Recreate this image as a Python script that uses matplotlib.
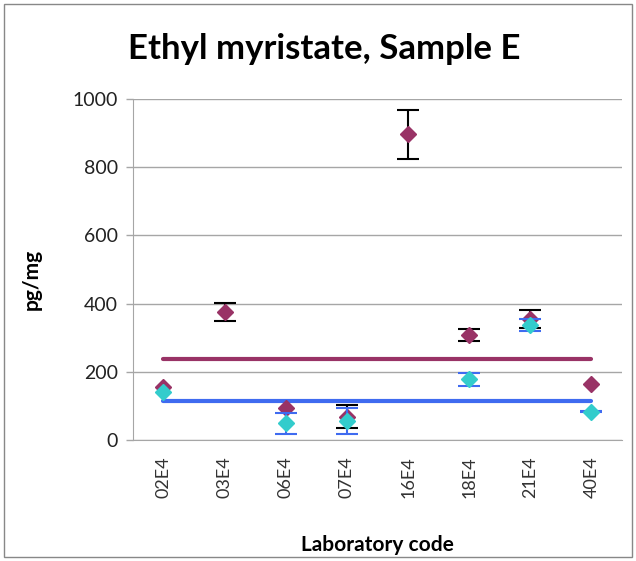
import numpy as np
import matplotlib
matplotlib.use('Agg')
import matplotlib.pyplot as plt
import matplotlib.patches as mpatches

labs = ['02E4', '03E4', '06E4', '07E4', '16E4', '18E4', '21E4', '40E4']
# magenta series (with black error bars)
vals_a = [155, 375, 95, 68, 897, 307, 355, 165]
err_a = [np.nan, 26, np.nan, 34, 72, 18, 27, np.nan]
# cyan series (with blue error bars)
vals_b = [142, np.nan, 49, 56, np.nan, 178, 337, 83]
err_b = [np.nan, np.nan, 30, 37, np.nan, 19, 18, 2]
mean_a = 237
mean_b = 114

plt.rcParams['font.family'] = ['Lato', 'DejaVu Sans']

fig = plt.figure(figsize=(6.36, 5.61), dpi=100)
ax = fig.add_axes([0.209, 0.2157, 0.769, 0.6078])
fig.patches.append(mpatches.Rectangle((0.006, 0.007), 0.988, 0.986, transform=fig.transFigure,
                                      fill=False, edgecolor='#888888', lw=1.0))

x = np.arange(len(labs))
ax.plot(x, [mean_a] * len(x), color='#993366', lw=3, solid_capstyle='round', zorder=2)
ax.plot(x, [mean_b] * len(x), color='#3F6BF0', lw=3, solid_capstyle='round', zorder=2)

ax.errorbar(x, vals_a, yerr=err_a, fmt='none', ecolor='black', elinewidth=1.5,
            capsize=8, capthick=1.5, zorder=3)
ax.plot(x, vals_a, 'D', color='#993366', ms=8, mec='#993366', zorder=4)
ax.errorbar(x, vals_b, yerr=err_b, fmt='none', ecolor='#3F6BF0', elinewidth=1.5,
            capsize=8, capthick=1.5, zorder=5)
ax.plot(x, vals_b, 'D', color='#33CCCC', ms=8, mec='#33CCCC', zorder=6)

ax.set_xlim(-0.5, len(labs) - 0.5)
ax.set_ylim(0, 1000)
ax.set_yticks(range(0, 1001, 200))
ax.yaxis.grid(True, color='#a6a6a6', lw=1)
ax.set_axisbelow(True)
ax.set_xticks(x)
ax.set_xticklabels(labs, rotation=90, fontsize=13, color='#333333')
ax.tick_params(axis='x', length=0, pad=12)
ax.tick_params(axis='y', labelsize=14, color='#a6a6a6', length=5, width=1, labelcolor='#222222', pad=6)
for s in ['top', 'right']:
    ax.spines[s].set_visible(False)
ax.spines['left'].set_color('#a6a6a6')
ax.spines['bottom'].set_color('#a6a6a6')

ax.set_xlabel('Laboratory code', fontsize=15, fontweight='bold', labelpad=26)
ax.set_ylabel('pg/mg', fontsize=15, fontweight='bold', labelpad=22)
ax.yaxis.label.set_y(0.47)
fig.text(0.51, 0.913, 'Ethyl myristate, Sample E', ha='center', va='center',
         fontsize=25, fontweight='bold')

fig.savefig('out.png', dpi=100)
